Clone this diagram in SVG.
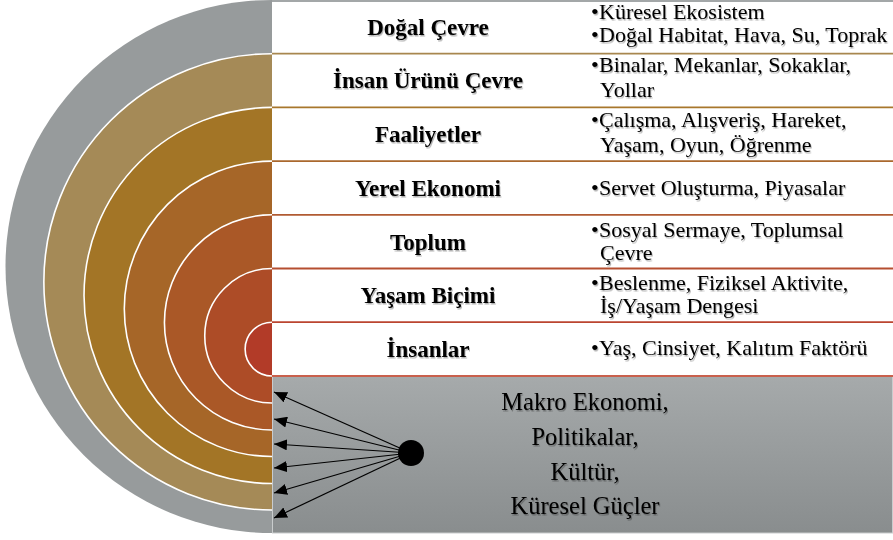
<svg xmlns="http://www.w3.org/2000/svg" width="893" height="540" viewBox="0 0 893 540">
<style>
.lbl{font-family:"Liberation Serif","Times New Roman",serif;font-weight:bold;font-size:23px;fill:#000;text-anchor:middle}
.itm{font-family:"Liberation Serif","Times New Roman",serif;font-size:22px;fill:#000}
.ext{font-family:"Liberation Serif","Times New Roman",serif;font-size:24.5px;fill:#000;text-anchor:middle}
.arc{fill:none;stroke:#fff;stroke-width:1.6}
.sep{stroke-width:1.8}
.conn{stroke:#000;stroke-width:1.2;fill:none;marker-end:url(#ah)}
</style>
<defs>
<linearGradient id="boxg" x1="0" y1="0" x2="0" y2="1">
<stop offset="0" stop-color="#a6aaab"/>
<stop offset="1" stop-color="#898d8e"/>
</linearGradient>
<filter id="sh" x="-5%" y="-20%" width="110%" height="150%">
<feDropShadow dx="1" dy="1.5" stdDeviation="0.7" flood-color="#000" flood-opacity="0.3"/>
</filter>
<marker id="ah" viewBox="0 0 13 11" refX="13" refY="5.5" markerWidth="13" markerHeight="11" markerUnits="userSpaceOnUse" orient="auto">
<path d="M0,0 L13,5.5 L0,11 Z" fill="#000"/>
</marker>
</defs>

<g id="rings">
<path d="M272,0 A266.5,266.5 0 0 0 272,533 Z" fill="#979b9c"/>
<path d="M272,53.7 A228.15,228.15 0 0 0 272,510 Z" fill="#a58a57"/>
<path d="M272,107.4 A188.05,188.05 0 0 0 272,483.5 Z" fill="#a37526"/>
<path d="M272,161.1 A147.7,147.7 0 0 0 272,456.5 Z" fill="#a66628"/>
<path d="M272,214.8 A107.6,107.6 0 0 0 272,430 Z" fill="#aa5827"/>
<path d="M272,268.5 A67.25,67.25 0 0 0 272,403 Z" fill="#ad4c27"/>
<path d="M272,322.2 A26.9,26.9 0 0 0 272,376 Z" fill="#b23b28"/>
<path class="arc" d="M272,53.7 A228.15,228.15 0 0 0 272,510"/>
<path class="arc" d="M272,107.4 A188.05,188.05 0 0 0 272,483.5"/>
<path class="arc" d="M272,161.1 A147.7,147.7 0 0 0 272,456.5"/>
<path class="arc" d="M272,214.8 A107.6,107.6 0 0 0 272,430"/>
<path class="arc" d="M272,268.5 A67.25,67.25 0 0 0 272,403"/>
<path class="arc" d="M272,322.2 A26.9,26.9 0 0 0 272,376"/>
</g>

<g id="table-lines">
<rect x="273" y="0" width="620" height="376" fill="#fff"/>
<line class="sep" x1="272" y1="1" x2="893" y2="1" stroke="#a3a7a8"/>
<line class="sep" x1="272" y1="53.7" x2="893" y2="53.7" stroke="#a8874f"/>
<line class="sep" x1="272" y1="107.4" x2="893" y2="107.4" stroke="#a8772c"/>
<line class="sep" x1="272" y1="161.1" x2="893" y2="161.1" stroke="#aa682e"/>
<line class="sep" x1="272" y1="214.8" x2="893" y2="214.8" stroke="#b15b32"/>
<line class="sep" x1="272" y1="268.5" x2="893" y2="268.5" stroke="#b54f30"/>
<line class="sep" x1="272" y1="322.2" x2="893" y2="322.2" stroke="#bb4530"/>
</g>

<g id="row-dogal-cevre">
<text class="lbl" x="428" y="35" filter="url(#sh)">Doğal Çevre</text>
<text class="itm" x="591" y="19" filter="url(#sh)">•<tspan x="599">Küresel Ekosistem</tspan></text>
<text class="itm" x="591" y="42" filter="url(#sh)">•<tspan x="599">Doğal Habitat, Hava, Su, Toprak</tspan></text>
</g>
<g id="row-insan-urunu-cevre">
<text class="lbl" x="428" y="88" filter="url(#sh)">İnsan Ürünü Çevre</text>
<text class="itm" x="591" y="72" filter="url(#sh)">•<tspan x="599">Binalar, Mekanlar, Sokaklar,</tspan></text>
<text class="itm" x="600" y="97" filter="url(#sh)">Yollar</text>
</g>
<g id="row-faaliyetler">
<text class="lbl" x="428" y="142" filter="url(#sh)">Faaliyetler</text>
<text class="itm" x="591" y="127" filter="url(#sh)">•<tspan x="599">Çalışma, Alışveriş, Hareket,</tspan></text>
<text class="itm" x="600" y="152" filter="url(#sh)">Yaşam, Oyun, Öğrenme</text>
</g>
<g id="row-yerel-ekonomi">
<text class="lbl" x="428" y="196" filter="url(#sh)">Yerel Ekonomi</text>
<text class="itm" x="591" y="195" filter="url(#sh)">•<tspan x="599">Servet Oluşturma, Piyasalar</tspan></text>
</g>
<g id="row-toplum">
<text class="lbl" x="428" y="250" filter="url(#sh)">Toplum</text>
<text class="itm" x="591" y="237" filter="url(#sh)">•<tspan x="599">Sosyal Sermaye, Toplumsal</tspan></text>
<text class="itm" x="600" y="260" filter="url(#sh)">Çevre</text>
</g>
<g id="row-yasam-bicimi">
<text class="lbl" x="428" y="303" filter="url(#sh)">Yaşam Biçimi</text>
<text class="itm" x="591" y="290" filter="url(#sh)">•<tspan x="599">Beslenme, Fiziksel Aktivite,</tspan></text>
<text class="itm" x="600" y="313" filter="url(#sh)">İş/Yaşam Dengesi</text>
</g>
<g id="row-insanlar">
<text class="lbl" x="428" y="357" filter="url(#sh)">İnsanlar</text>
<text class="itm" x="591" y="355" filter="url(#sh)">•<tspan x="599">Yaş, Cinsiyet, Kalıtım Faktörü</tspan></text>
</g>

<g id="external-box">
<rect x="272.5" y="376" width="620" height="157" fill="url(#boxg)" stroke="#c9cccd" stroke-width="1"/>
<line x1="272" y1="376" x2="893" y2="376" stroke="#c9604c" stroke-width="2"/>
<text class="ext" x="585" y="410" filter="url(#sh)">Makro Ekonomi,</text>
<text class="ext" x="585" y="445" filter="url(#sh)">Politikalar,</text>
<text class="ext" x="585" y="480" filter="url(#sh)">Kültür,</text>
<text class="ext" x="585" y="514" filter="url(#sh)">Küresel Güçler</text>
</g>

<g id="connectors">
<line class="conn" x1="411" y1="453" x2="274" y2="392"/>
<line class="conn" x1="411" y1="453" x2="274" y2="419"/>
<line class="conn" x1="411" y1="453" x2="274" y2="444"/>
<line class="conn" x1="411" y1="453" x2="274" y2="468"/>
<line class="conn" x1="411" y1="453" x2="274" y2="493"/>
<line class="conn" x1="411" y1="453" x2="274" y2="518"/>
</g>
<g id="source-dot">
<circle cx="411" cy="453" r="13" fill="#000"/>
</g>
</svg>
